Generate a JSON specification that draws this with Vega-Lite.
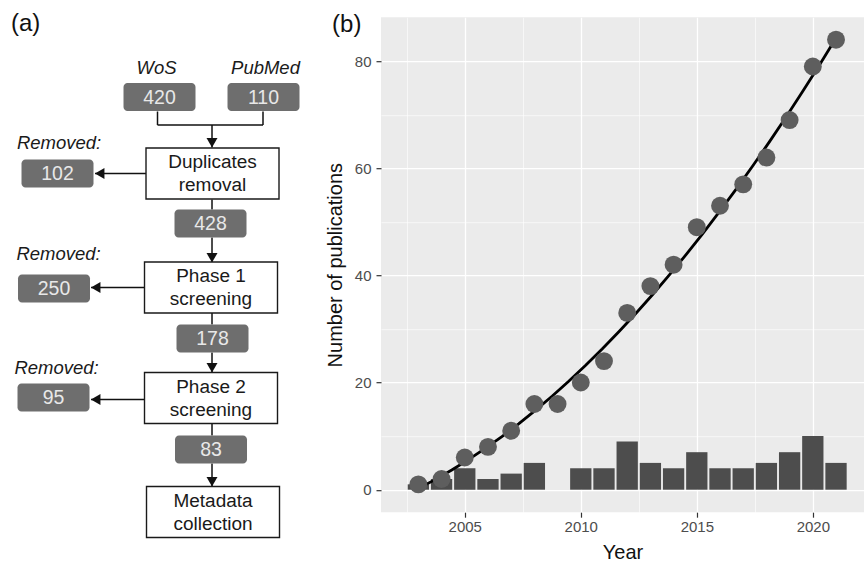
{
  "$schema": "https://vega.github.io/schema/vega-lite/v6.json",
  "background": "white",
  "padding": {"top": 12.2, "left": 0, "right": 0, "bottom": 0},
  "spacing": 5,
  "config": {"font": "Liberation Sans", "view": {"stroke": null}},
  "datasets": {
    "numberBoxes": [
      {"label": "420", "x": 15.95, "y": 9.75},
      {"label": "110", "x": 26.35, "y": 9.75},
      {"label": "102", "x": 5.75, "y": 17.4},
      {"label": "428", "x": 21.05, "y": 22.4},
      {"label": "250", "x": 5.4, "y": 28.9},
      {"label": "178", "x": 21.25, "y": 33.9},
      {"label": "95", "x": 5.35, "y": 39.8},
      {"label": "83", "x": 21.1, "y": 45.0}
    ],
    "stepBoxes": [
      {"label": "Duplicates\nremoval", "x": 21.25, "y": 17.4},
      {"label": "Phase 1\nscreening", "x": 21.1, "y": 28.8},
      {"label": "Phase 2\nscreening", "x": 21.1, "y": 39.85},
      {"label": "Metadata\ncollection", "x": 21.3, "y": 51.25}
    ],
    "italicLabels": [
      {"label": "WoS", "x": 15.65, "y": 6.85},
      {"label": "PubMed", "x": 26.55, "y": 6.85},
      {"label": "Removed:", "x": 5.9, "y": 14.4},
      {"label": "Removed:", "x": 5.85, "y": 25.5},
      {"label": "Removed:", "x": 5.65, "y": 36.85}
    ],
    "links": [
      {"x": 15.75, "y": 11.2, "x2": 15.75, "y2": 12.55, "head": "none"},
      {"x": 26.3, "y": 11.2, "x2": 26.3, "y2": 12.55, "head": "none"},
      {"x": 15.75, "y": 12.55, "x2": 26.3, "y2": 12.55, "head": "none"},
      {"x": 21.2, "y": 12.55, "x2": 21.2, "y2": 14.8, "head": "down"},
      {"x": 14.6, "y": 17.4, "x2": 9.5, "y2": 17.4, "head": "left"},
      {"x": 21.2, "y": 20.0, "x2": 21.2, "y2": 21.0, "head": "none"},
      {"x": 21.2, "y": 23.8, "x2": 21.2, "y2": 26.3, "head": "down"},
      {"x": 14.4, "y": 28.8, "x2": 9.1, "y2": 28.8, "head": "left"},
      {"x": 21.2, "y": 31.3, "x2": 21.2, "y2": 32.5, "head": "none"},
      {"x": 21.2, "y": 35.3, "x2": 21.2, "y2": 37.3, "head": "down"},
      {"x": 14.4, "y": 40.0, "x2": 9.1, "y2": 40.0, "head": "left"},
      {"x": 21.2, "y": 42.4, "x2": 21.2, "y2": 43.6, "head": "none"},
      {"x": 21.2, "y": 46.4, "x2": 21.2, "y2": 48.7, "head": "down"}
    ],
    "tagA": [{"label": "(a)", "x": 1.1, "y": 3.2}],
    "tagB": [{"label": "(b)", "year": 1999.28, "cumulative": 85.53}],
    "pubs": [
      {"year": 2003, "annual": 1, "cumulative": 1},
      {"year": 2004, "annual": 2, "cumulative": 2},
      {"year": 2005, "annual": 4, "cumulative": 6},
      {"year": 2006, "annual": 2, "cumulative": 8},
      {"year": 2007, "annual": 3, "cumulative": 11},
      {"year": 2008, "annual": 5, "cumulative": 16},
      {"year": 2009, "annual": 0, "cumulative": 16},
      {"year": 2010, "annual": 4, "cumulative": 20},
      {"year": 2011, "annual": 4, "cumulative": 24},
      {"year": 2012, "annual": 9, "cumulative": 33},
      {"year": 2013, "annual": 5, "cumulative": 38},
      {"year": 2014, "annual": 4, "cumulative": 42},
      {"year": 2015, "annual": 7, "cumulative": 49},
      {"year": 2016, "annual": 4, "cumulative": 53},
      {"year": 2017, "annual": 4, "cumulative": 57},
      {"year": 2018, "annual": 5, "cumulative": 62},
      {"year": 2019, "annual": 7, "cumulative": 69},
      {"year": 2020, "annual": 10, "cumulative": 79},
      {"year": 2021, "annual": 5, "cumulative": 84}
    ]
  },
  "hconcat": [
    {
      "width": 320,
      "height": 530,
      "encoding": {
        "x": {"field": "x", "type": "quantitative", "scale": {"domain": [0, 32], "nice": false, "zero": false}, "axis": null},
        "y": {"field": "y", "type": "quantitative", "scale": {"domain": [1.77, 54.77], "nice": false, "zero": false, "reverse": true}, "axis": null}
      },
      "layer": [
        {
          "data": {"name": "links"},
          "mark": {"type": "rule", "color": "#111111", "strokeWidth": 1.5},
          "encoding": {
            "x2": {"field": "x2"},
            "y2": {"field": "y2"}
          }
        },
        {
          "data": {"name": "links"},
          "transform": [{"filter": "datum.head === 'down'"}],
          "mark": {"type": "point", "shape": "triangle-down", "filled": true, "color": "#111111", "opacity": 1, "size": 120, "yOffset": -4.7},
          "encoding": {
            "x": {"field": "x2", "type": "quantitative", "axis": null},
            "y": {"field": "y2", "type": "quantitative", "axis": null}
          }
        },
        {
          "data": {"name": "links"},
          "transform": [{"filter": "datum.head === 'left'"}],
          "mark": {"type": "point", "shape": "triangle-left", "filled": true, "color": "#111111", "opacity": 1, "size": 120, "xOffset": 4.7},
          "encoding": {
            "x": {"field": "x2", "type": "quantitative", "axis": null},
            "y": {"field": "y2", "type": "quantitative", "axis": null}
          }
        },
        {
          "data": {"name": "numberBoxes"},
          "mark": {"type": "rect", "width": 72, "height": 28, "cornerRadius": 4, "fill": "#6e6e6e"}
        },
        {
          "data": {"name": "numberBoxes"},
          "mark": {"type": "text", "fontSize": 19.5, "color": "#e8e8e8", "align": "center", "baseline": "middle", "dy": 1},
          "encoding": {"text": {"field": "label"}}
        },
        {
          "data": {"name": "stepBoxes"},
          "mark": {"type": "rect", "width": 133, "height": 51, "fill": "white", "stroke": "#1a1a1a", "strokeWidth": 1.4}
        },
        {
          "data": {"name": "stepBoxes"},
          "mark": {"type": "text", "fontSize": 19, "lineHeight": 23, "lineBreak": "\n", "color": "#1a1a1a", "align": "center", "baseline": "middle", "dy": -11}
          ,
          "encoding": {"text": {"field": "label"}}
        },
        {
          "data": {"name": "italicLabels"},
          "mark": {"type": "text", "fontSize": 18.5, "fontStyle": "italic", "color": "#1a1a1a", "align": "center", "baseline": "middle"},
          "encoding": {"text": {"field": "label"}}
        },
        {
          "data": {"name": "tagA"},
          "mark": {"type": "text", "fontSize": 24, "color": "#111111", "align": "left", "baseline": "alphabetic"},
          "encoding": {"text": {"field": "label"}}
        }
      ]
    },
    {
      "width": 483,
      "height": 495,
      "view": {"fill": "#ebebeb", "stroke": null},
      "data": {"name": "pubs"},
      "layer": [
        {
          "mark": {"type": "bar", "orient": "vertical", "width": 21.3, "color": "#4d4d4d"},
          "encoding": {
            "x": {
              "field": "year", "type": "quantitative", "title": "Year",
              "scale": {"domain": [2001.605, 2021.99], "nice": false, "zero": false},
              "axis": {
                "values": [2002.5, 2005, 2007.5, 2010, 2012.5, 2015, 2017.5, 2020],
                "format": "d",
                "labelExpr": "datum.value % 5 === 0 ? datum.label : ''",
                "domain": false,
                "grid": true,
                "gridColor": "white",
                "gridWidth": {"condition": {"test": "datum.value % 5 === 0", "value": 1.3}, "value": 0.6},
                "tickColor": "#333333",
                "tickOpacity": {"condition": {"test": "datum.value % 5 === 0", "value": 1}, "value": 0},
                "tickSize": 5,
                "tickWidth": 1.2,
                "labelColor": "#4d4d4d",
                "labelFontSize": 15,
                "labelPadding": 2.5,
                "labelFlush": false,
                "titleFontSize": 20,
                "titleFontWeight": "normal",
                "titleColor": "#111111",
                "titlePadding": 7.5
              }
            },
            "y": {
              "field": "annual", "type": "quantitative", "title": "Number of publications",
              "scale": {"domain": [-4.2, 88.2], "nice": false, "zero": false},
              "axis": {
                "values": [0, 10, 20, 30, 40, 50, 60, 70, 80],
                "labelExpr": "datum.value % 20 === 0 ? datum.label : ''",
                "domain": false,
                "grid": true,
                "gridColor": "white",
                "gridWidth": {"condition": {"test": "datum.value % 20 === 0", "value": 1.3}, "value": 0.6},
                "tickColor": "#333333",
                "tickOpacity": {"condition": {"test": "datum.value % 20 === 0", "value": 1}, "value": 0},
                "tickSize": 5,
                "tickWidth": 1.2,
                "labelColor": "#4d4d4d",
                "labelFontSize": 15,
                "labelPadding": 5,
                "labelFlush": false,
                "titleFontSize": 20,
                "titleFontWeight": "normal",
                "titleColor": "#111111",
                "titlePadding": 9
              }
            }
          }
        },
        {
          "transform": [{"regression": "cumulative", "on": "year", "method": "poly", "order": 2}],
          "mark": {"type": "line", "color": "black", "strokeWidth": 2.8},
          "encoding": {
            "x": {"field": "year", "type": "quantitative", "title": "Year"},
            "y": {"field": "cumulative", "type": "quantitative", "title": "Number of publications"}
          }
        },
        {
          "mark": {"type": "circle", "size": 320, "color": "#5e5e5e", "opacity": 1},
          "encoding": {
            "x": {"field": "year", "type": "quantitative", "title": "Year"},
            "y": {"field": "cumulative", "type": "quantitative", "title": "Number of publications"}
          }
        },
        {
          "data": {"name": "tagB"},
          "mark": {"type": "text", "fontSize": 24, "color": "#111111", "align": "left", "baseline": "alphabetic"},
          "encoding": {
            "x": {"field": "year", "type": "quantitative", "title": "Year"},
            "y": {"field": "cumulative", "type": "quantitative", "title": "Number of publications"},
            "text": {"field": "label"}
          }
        }
      ]
    }
  ]
}
